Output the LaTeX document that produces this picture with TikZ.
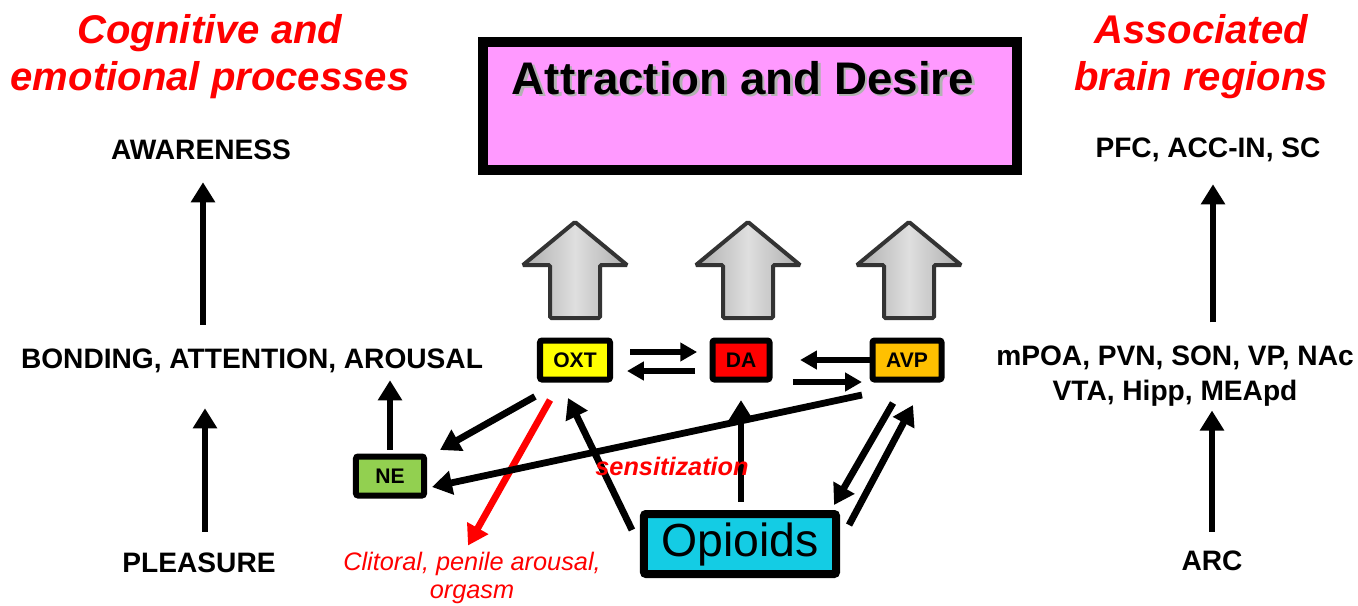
\documentclass[tikz,border=0pt]{standalone}
\usepackage{fontspec}
\setmainfont{Liberation Sans}
\usetikzlibrary{arrows.meta,positioning}
\definecolor{desirepink}{RGB}{255,153,255}
\definecolor{oxtyellow}{RGB}{255,255,0}
\definecolor{dared}{RGB}{255,0,0}
\definecolor{avporange}{RGB}{255,192,0}
\definecolor{negreen}{RGB}{146,208,80}
\definecolor{opcyan}{RGB}{20,204,228}

\begin{document}
\begin{tikzpicture}[x=0.025cm,y=-0.025cm,
  lbl/.style={font=\bfseries\fontsize{20}{25}\selectfont, inner sep=0pt, align=center},
  head/.style={text=red, font=\bfseries\itshape\fontsize{28.5}{33.4}\selectfont, inner sep=0pt, align=center},
  chem/.style={draw, line width=0.15cm, rounded corners=1.5pt, minimum height=0.975cm, inner sep=0pt, font=\bfseries\fontsize{15}{18}\selectfont},
  arr/.style={-{Triangle[length=0.5cm,width=0.58cm]}, line width=0.17cm},
  smallarr/.style={-{Triangle[length=0.42cm,width=0.45cm]}, line width=0.16cm},
  bigup/.style={draw=gray!40!black, line width=0.1cm, rounded corners=1pt, left color=gray!65, right color=gray!65, middle color=gray!25}]
\useasboundingbox (0,0) rectangle (1358,605);

% headers
\node[head] (cogn) at (210,57) {Cognitive and\\emotional processes};
\node[head] (assoc) at (1201,57) {Associated\\brain regions};

% left column
\node[lbl] (awareness) at (201,150) {AWARENESS};
\node[lbl] (bonding) at (252,361) {BONDING, ATTENTION, AROUSAL};
\node[lbl] (pleasure) at (199,563) {PLEASURE};

% right column
\node[lbl] (pfc) at (1208,150) {PFC, ACC-IN, SC};
\node[lbl, font=\bfseries\fontsize{20}{24.9}\selectfont] (regions) at (1175,376) {mPOA, PVN, SON, VP, NAc\\VTA, Hipp, MEApd};
\node[lbl] (arc) at (1212,561) {ARC};

% attraction box
\node[draw, line width=0.25cm, fill=desirepink, minimum width=13.35cm, minimum height=3.2cm] (desire) at (750,106) {};
\node[font=\bfseries\fontsize{32.5}{36}\selectfont, text=gray!60, inner sep=0pt] (desireshadow) at (745.5,80.5) {Attraction and Desire};
\node[font=\bfseries\fontsize{32.5}{36}\selectfont, inner sep=0pt] (desiretxt) at (743,78) {Attraction and Desire};

% big grey arrows
\foreach \x in {575,748,909}
  \draw[bigup] (\x-25,318) -- (\x-25,265) -- (\x-52,265) -- (\x,222) -- (\x+52,265) -- (\x+25,265) -- (\x+25,318) -- cycle;

% transmitters
\node[chem, fill=oxtyellow, minimum width=1.75cm] (oxt) at (575,360) {OXT};
\node[chem, fill=dared, minimum width=1.425cm] (da) at (741,360) {DA};
\node[chem, fill=avporange, minimum width=1.725cm] (avp) at (907,360) {AVP};
\node[chem, fill=negreen, minimum width=1.7cm] (ne) at (390,476) {NE};
\node[chem, fill=opcyan, line width=0.2cm, minimum width=4.8cm, minimum height=1.5cm, font=\fontsize{33}{36}\selectfont] (opioids) at (740,544) {Opioids};
\node[font=\itshape\fontsize{18}{20.5}\selectfont, text=red, align=center, inner sep=0pt] (clitoral) at (472,578) {Clitoral, penile arousal,\\orgasm};

% vertical arrows
\draw[arr, shorten <=0.6cm, shorten >=0.55cm] ([xshift=0.05cm]awareness |- bonding.north) -- ([xshift=0.05cm]awareness.south);
\draw[arr, shorten <=0.525cm, shorten >=0.875cm] ([xshift=0.15cm]pleasure.north) -- ([xshift=0.15cm]pleasure.north |- bonding.south);
\draw[arr, shorten <=0.575cm, shorten >=0.55cm] ([xshift=0.125cm]pfc |- regions.north) -- ([xshift=0.125cm]pfc.south);
\draw[arr, shorten <=0.475cm, shorten >=0.1cm] (arc.north) -- (arc.north |- regions.south);
\draw[arr, shorten <=0.1cm, shorten >=0.175cm] (ne.north) -- (ne.north |- bonding.south);

% between transmitters
\draw[smallarr, shorten <=0.425cm, shorten >=0.31cm] ([yshift=0.2cm]oxt.east) -- ([yshift=0.2cm]da.west);
\draw[smallarr, shorten <=0.36cm, shorten >=0.35cm] ([yshift=-0.275cm]da.west) -- ([yshift=-0.275cm]oxt.east);
\draw[smallarr, shorten >=0.69cm] (avp.west) -- (da.east);
\draw[smallarr, shorten <=0.51cm, shorten >=0.19cm] ([yshift=-0.55cm]da.east) -- ([yshift=-0.55cm]avp.west);

\draw[arr] ([shift={(-2,14)}]oxt.south west) -- ([shift={(13,-3.5)}]ne.north east);
\draw[arr, red] ([shift={(-25,17.5)}]oxt.south) -- ([shift={(-4,-6)}]clitoral.north);
\draw[arr] ([shift={(-8,20)}]opioids.north west) -- ([shift={(-7,15.5)}]oxt.south);
\draw[arr, shorten <=0.2cm, shorten >=0.44cm] (da.south |- opioids.north) -- (da.south);
\draw[arr] ([shift={(-7.5,12.5)}]avp.south west) -- ([shift={(5,11)}]ne.east);
\draw[arr] ([shift={(-14,20.5)}]avp.south) -- ([shift={(-6,-5)}]opioids.north east);
\draw[arr] ([shift={(9,15)}]opioids.north east) -- ([shift={(6,22.5)}]avp.south);

\node[font=\bfseries\itshape\fontsize{18}{20}\selectfont, text=red, inner sep=0pt] (sens) at (672,466) {sensitization};
\end{tikzpicture}
\end{document}
